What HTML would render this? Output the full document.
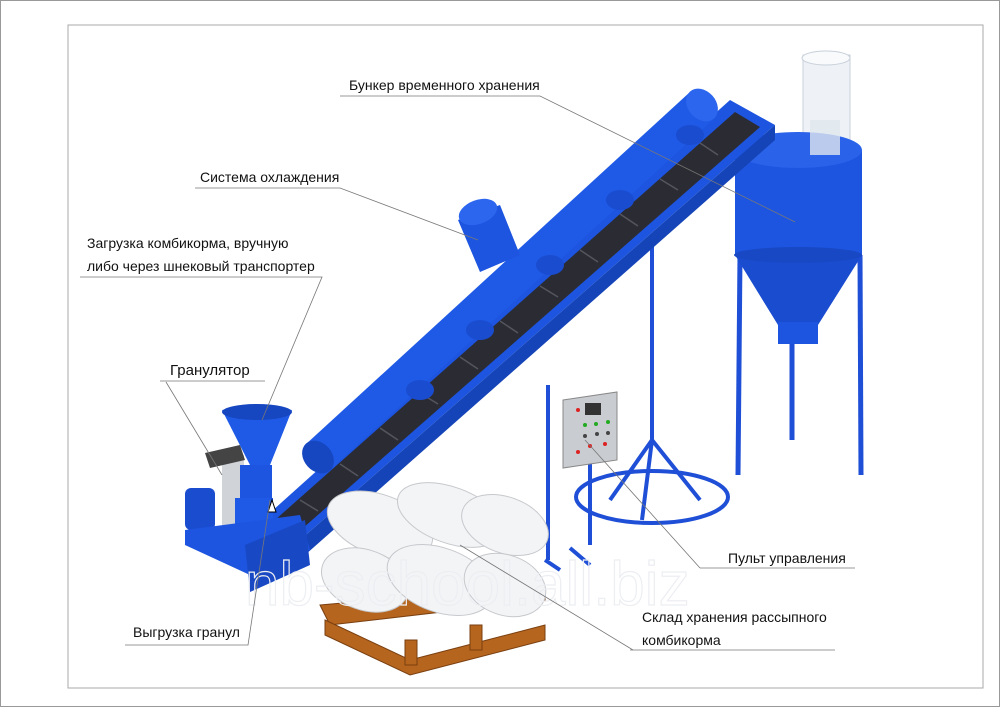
<!DOCTYPE html>
<html><head><meta charset="utf-8"><style>
html,body{margin:0;padding:0;background:#fff;}
svg{display:block}
text{font-family:"Liberation Sans",sans-serif;font-size:14px;fill:#111;}
</style></head><body>
<svg width="1000" height="707" viewBox="0 0 1000 707" xmlns="http://www.w3.org/2000/svg">
<rect x="0.5" y="0.5" width="999" height="706" fill="#fff" stroke="#999"/>
<rect x="68" y="25" width="915" height="663" fill="none" stroke="#aaa"/>

<!-- silo legs -->
<g stroke="#1f4fd6" stroke-width="5">
<line x1="740" y1="255" x2="738" y2="475"/><line x1="792" y1="330" x2="792" y2="440"/><line x1="860" y1="255" x2="861" y2="475"/>
</g>
<!-- silo -->
<rect x="803" y="55" width="47" height="105" fill="#eef2f6" stroke="#c8d0da"/>
<ellipse cx="826" cy="58" rx="24" ry="7" fill="#f8fafc" stroke="#c8d0da"/>
<path d="M735 150 L735 255 L862 255 L862 150 Z" fill="#1d55e0"/>
<ellipse cx="798" cy="150" rx="64" ry="18" fill="#2a62ea"/>
<path d="M735 255 L778 325 L818 325 L862 255 Z" fill="#1a4cd0"/>
<rect x="778" y="322" width="40" height="22" fill="#1d55e0"/>
<ellipse cx="798" cy="255" rx="64" ry="8" fill="#1848c4"/>
<rect x="810" y="120" width="30" height="35" fill="#dfe6ee" opacity="0.8"/>

<!-- stand with ring -->
<g stroke="#1f4fd6" stroke-width="4" fill="none">
<line x1="652" y1="245" x2="652" y2="440"/>
<line x1="652" y1="440" x2="610" y2="500"/><line x1="652" y1="440" x2="700" y2="500"/><line x1="652" y1="440" x2="642" y2="520"/>
<ellipse cx="652" cy="497" rx="76" ry="26"/>
<line x1="548" y1="385" x2="548" y2="560"/><line x1="590" y1="455" x2="590" y2="545"/>
<line x1="570" y1="548" x2="590" y2="565"/><line x1="545" y1="560" x2="560" y2="570"/>
</g>
<!-- control panel -->
<path d="M563 400 L617 392 L617 460 L563 468 Z" fill="#c9ccd0" stroke="#888"/>
<rect x="585" y="403" width="16" height="12" fill="#333"/>
<g fill="#d22"><circle cx="578" cy="410" r="2"/><circle cx="590" cy="446" r="2"/><circle cx="605" cy="444" r="2"/><circle cx="578" cy="452" r="2"/></g>
<g fill="#2a2"><circle cx="585" cy="425" r="2"/><circle cx="596" cy="424" r="2"/><circle cx="608" cy="422" r="2"/></g>
<g fill="#444"><circle cx="585" cy="436" r="2"/><circle cx="597" cy="434" r="2"/><circle cx="608" cy="433" r="2"/></g>

<!-- conveyor belt -->
<path d="M262 520 L730 100 L775 125 L300 540 Z" fill="#1d55e0"/>
<path d="M275 520 L735 112 L760 127 L295 535 Z" fill="#2b2b33"/>
<g stroke="#55555e" stroke-width="1.5">
<line x1="300" y1="500" x2="318" y2="511"/><line x1="340" y1="464" x2="358" y2="476"/><line x1="380" y1="428" x2="398" y2="440"/><line x1="420" y1="393" x2="438" y2="404"/><line x1="460" y1="357" x2="478" y2="369"/><line x1="500" y1="321" x2="518" y2="333"/><line x1="540" y1="286" x2="558" y2="297"/><line x1="580" y1="250" x2="598" y2="262"/><line x1="620" y1="214" x2="638" y2="226"/><line x1="660" y1="179" x2="678" y2="190"/><line x1="700" y1="143" x2="718" y2="155"/>
</g>
<path d="M300 540 L775 125 L775 140 L305 555 Z" fill="#1544b8"/>
<!-- upper pipe -->
<path d="M305 445 L690 92 L715 118 L330 470 Z" fill="#1f5ae6"/>
<ellipse cx="318" cy="457" rx="14" ry="18" transform="rotate(-42 318 457)" fill="#1646c0"/>
<ellipse cx="702" cy="105" rx="14" ry="18" transform="rotate(-42 702 105)" fill="#2c66ee"/>
<g fill="#1a4cd0"><ellipse cx="420" cy="390" rx="14" ry="10"/><ellipse cx="480" cy="330" rx="14" ry="10"/><ellipse cx="550" cy="265" rx="14" ry="10"/><ellipse cx="620" cy="200" rx="14" ry="10"/><ellipse cx="690" cy="135" rx="14" ry="10"/></g>
<!-- cooler -->
<path d="M458 220 L500 205 L520 255 L480 272 Z" fill="#1d55e0"/>
<ellipse cx="478" cy="212" rx="20" ry="12" transform="rotate(-20 478 212)" fill="#2c66ee"/>

<!-- granulator -->
<rect x="185" y="488" width="30" height="42" rx="6" fill="#1a4cd0"/>
<rect x="222" y="455" width="22" height="75" fill="#d0d3d8"/>
<path d="M205 453 L240 445 L245 460 L210 468 Z" fill="#444"/>
<path d="M222 410 Q257 405 292 410 L270 465 L250 465 Z" fill="#1f5ae6"/>
<ellipse cx="257" cy="412" rx="35" ry="8" fill="#1646c0"/>
<rect x="240" y="465" width="32" height="35" fill="#1d55e0"/>
<rect x="235" y="498" width="38" height="45" fill="#1f5ae6"/>
<path d="M185 530 L300 515 L310 550 L250 575 L185 545 Z" fill="#1d55e0"/>
<path d="M245 545 L305 520 L310 565 L250 592 Z" fill="#1848c4"/>
<path d="M268 512 L272 500 L276 512 Z" fill="#fff" stroke="#000"/>

<!-- pallet -->
<g fill="#b5651d" stroke="#7a3f10" stroke-width="1">
<path d="M320 605 L545 585 L545 600 L330 625 Z"/>
<path d="M325 620 L410 660 L545 625 L545 640 L410 675 L325 635 Z"/>
<rect x="405" y="640" width="12" height="25"/>
<rect x="470" y="625" width="12" height="25"/>
</g>
<!-- bags -->
<g fill="#f3f4f6" stroke="#c6c8cc">
<ellipse cx="380" cy="525" rx="55" ry="30" transform="rotate(20 380 525)"/>
<ellipse cx="450" cy="515" rx="55" ry="28" transform="rotate(20 450 515)"/>
<ellipse cx="505" cy="525" rx="45" ry="28" transform="rotate(20 505 525)"/>
<ellipse cx="365" cy="580" rx="45" ry="30" transform="rotate(20 365 580)"/>
<ellipse cx="440" cy="580" rx="55" ry="32" transform="rotate(20 440 580)"/>
<ellipse cx="505" cy="585" rx="42" ry="30" transform="rotate(20 505 585)"/>
</g>

<!-- watermark -->
<text x="245" y="605" style="font-family:'Liberation Sans',sans-serif;font-size:62px;fill:none;stroke:#eceef2;stroke-width:1.2">nb-school.all.biz</text>

<!-- leader lines -->
<g stroke="#777" stroke-width="0.8" fill="none">
<polyline points="340,96 540,96 795,222"/>
<polyline points="195,188 340,188 478,240"/>
<polyline points="80,277 322,277 262,420"/>
<polyline points="160,381 265,381"/><line x1="166" y1="382" x2="222" y2="475"/>
<polyline points="125,645 248,645 270,500"/>
<polyline points="700,568 855,568"/><line x1="700" y1="568" x2="585" y2="440"/>
<polyline points="630,650 835,650"/><line x1="633" y1="650" x2="460" y2="545"/>
</g>

<!-- labels -->
<text x="349" y="90">Бункер временного хранения</text>
<text x="200" y="182">Система охлаждения</text>
<text x="87" y="248">Загрузка комбикорма, вручную</text>
<text x="87" y="271">либо через шнековый транспортер</text>
<text x="170" y="375" style="font-size:15px">Гранулятор</text>
<text x="133" y="637">Выгрузка гранул</text>
<text x="728" y="563">Пульт управления</text>
<text x="642" y="622">Склад хранения рассыпного</text>
<text x="642" y="645">комбикорма</text>
</svg>
</body></html>
